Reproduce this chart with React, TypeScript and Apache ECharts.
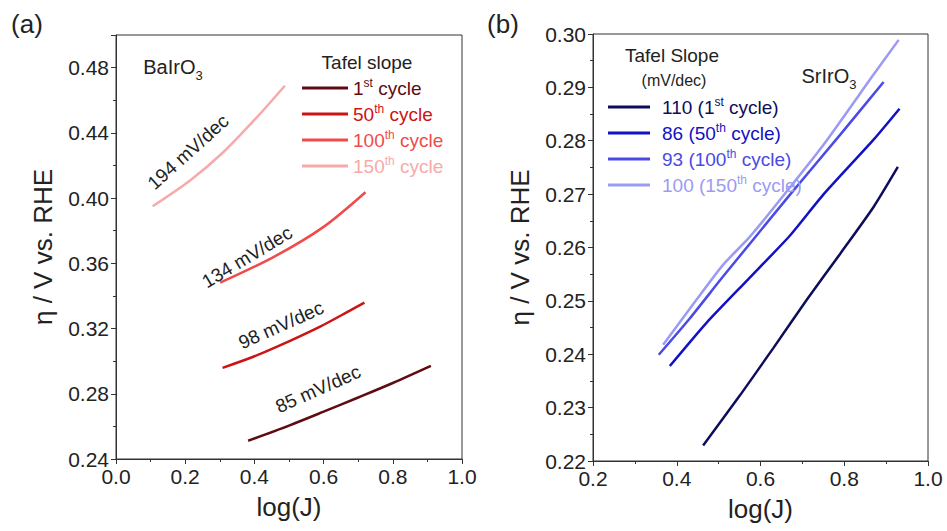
import React, { useEffect, useRef } from "react";
import * as echarts from "echarts";

const FONT = '"Liberation Sans", Arial, Helvetica, sans-serif';

// Panel (a) BaIrO3
const aNames = ["1st cycle", "50th cycle", "100th cycle", "150th cycle"];
const aColors = ["#5e0b12", "#cc1414", "#ef4b4b", "#f6aaaa"];
const a1X = [0.382, 0.5, 0.6, 0.7, 0.8, 0.91];
const a1Y = [0.2512, 0.2605, 0.269, 0.2777, 0.2866, 0.2971];
const a50X = [0.308, 0.397, 0.464, 0.59, 0.676, 0.718];
const a50Y = [0.2959, 0.3027, 0.3087, 0.3212, 0.331, 0.3359];
const a100X = [0.301, 0.455, 0.599, 0.721];
const a100Y = [0.3481, 0.3638, 0.3822, 0.4036];
const a150X = [0.106, 0.214, 0.31, 0.407, 0.488];
const a150Y = [0.395, 0.4108, 0.4281, 0.4495, 0.4689];
const aSlopes = ["85 mV/dec", "98 mV/dec", "134 mV/dec", "194 mV/dec"];

// Panel (b) SrIrO3
const bNames = ["110 (1st cycle)", "86 (50th cycle)", "93 (100th cycle)", "100 (150th cycle)"];
const bColors = ["#0d0d5c", "#1212c4", "#4a4ae6", "#9b9bf3"];
const b1X = [0.463, 0.551, 0.631, 0.7105, 0.79, 0.87, 0.928];
const b1Y = [0.2229, 0.2323, 0.2412, 0.2502, 0.2588, 0.2676, 0.2751];
const b50X = [0.3835, 0.47, 0.57, 0.67, 0.75, 0.87, 0.932];
const b50Y = [0.2378, 0.2458, 0.254, 0.2622, 0.2699, 0.2802, 0.286];
const b100X = [0.357, 0.431, 0.511, 0.6705, 0.79, 0.894];
const b100Y = [0.2399, 0.2467, 0.2546, 0.2699, 0.2811, 0.291];
const b150X = [0.3675, 0.447, 0.511, 0.571, 0.631, 0.75, 0.87, 0.93];
const b150Y = [0.2418, 0.2502, 0.2568, 0.2617, 0.2674, 0.2792, 0.2924, 0.2989];

const zip = (xs: number[], ys: number[]) => xs.map((x, i) => [x, ys[i]]);

const supFmt = (name: string) => name.replace(/(\d+)(st|th)/, "$1{sup|$2}");

export default function App() {
  const ref = useRef<HTMLDivElement>(null);
  useEffect(() => {
    if (!ref.current) return;
    const chart = echarts.init(ref.current, undefined, { renderer: "svg" });
    const axisColor = "#333";
    const labelColor = "#222";
    const mkX = (grid: number, min: number) => ({
      type: "value",
      gridIndex: grid,
      min,
      max: 1,
      interval: 0.2,
      name: "log(J)",
      nameLocation: "middle",
      nameGap: 35,
      nameTextStyle: { fontSize: 26, fontFamily: FONT, color: labelColor },
      axisLine: { show: true, lineStyle: { color: axisColor, width: 1 } },
      axisTick: { show: true, inside: false, length: 5, lineStyle: { color: axisColor } },
      minorTick: { show: true, splitNumber: 2, length: 3, lineStyle: { color: axisColor } },
      splitLine: { show: false },
      axisLabel: {
        fontSize: 21,
        fontFamily: FONT,
        color: labelColor,
        margin: 7,
        formatter: (v: number) => v.toFixed(1),
      },
    });
    const mkY = (grid: number, min: number, max: number, interval: number, gap: number) => ({
      type: "value",
      gridIndex: grid,
      min,
      max,
      interval,
      name: "η / V vs. RHE",
      nameLocation: "middle",
      nameGap: gap,
      nameTextStyle: { fontSize: 26, fontFamily: FONT, color: labelColor },
      axisLine: { show: true, lineStyle: { color: axisColor, width: 1 } },
      axisTick: { show: true, inside: false, length: 5, lineStyle: { color: axisColor } },
      minorTick: { show: true, splitNumber: 2, length: 3, lineStyle: { color: axisColor } },
      splitLine: { show: false },
      axisLabel: {
        fontSize: 21,
        fontFamily: FONT,
        color: labelColor,
        margin: 7,
        showMaxLabel: max === 0.3,
        formatter: (v: number) => v.toFixed(2),
      },
    });
    const legendText = {
      fontSize: 19,
      lineHeight: 22,
      fontFamily: FONT,
      rich: {
        sup: { fontSize: 12, lineHeight: 12, verticalAlign: "top", fontFamily: FONT },
      },
    };
    const aData = [zip(a1X, a1Y), zip(a50X, a50Y), zip(a100X, a100Y), zip(a150X, a150Y)];
    const bData = [zip(b1X, b1Y), zip(b50X, b50Y), zip(b100X, b100Y), zip(b150X, b150Y)];
    const series: any[] = [];
    aNames.forEach((n, i) =>
      series.push({
        type: "line",
        name: n,
        xAxisIndex: 0,
        yAxisIndex: 0,
        data: aData[i],
        symbol: "none",
        showSymbol: false,
        smooth: 0.3,
        lineStyle: { color: aColors[i], width: 2.5 },
        itemStyle: { color: aColors[i] },
      })
    );
    bNames.forEach((n, i) =>
      series.push({
        type: "line",
        name: n,
        xAxisIndex: 1,
        yAxisIndex: 1,
        data: bData[i],
        symbol: "none",
        showSymbol: false,
        smooth: 0.2,
        lineStyle: { color: bColors[i], width: 2.5 },
        itemStyle: { color: bColors[i] },
      })
    );
    const txt = (text: string, x: number, y: number, size: number, rot = 0, color = "#222", rich?: any) => ({
      type: "text",
      x,
      y,
      rotation: (rot * Math.PI) / 180,
      style: {
        text,
        fontSize: size,
        fontFamily: FONT,
        fill: color,
        align: "center",
        verticalAlign: "middle",
        ...(rich ? { rich, lineHeight: 30 } : {}),
      },
    });
    const subRich = {
      sub: { fontSize: 13, lineHeight: 13, verticalAlign: "bottom", fontFamily: FONT },
    };
    chart.setOption({
      animation: false,
      backgroundColor: "#ffffff",
      grid: [
        { left: 116, top: 35, width: 346, height: 424, show: true, borderColor: axisColor, borderWidth: 1, backgroundColor: "transparent" },
        { left: 593, top: 34, width: 335, height: 427, show: true, borderColor: axisColor, borderWidth: 1, backgroundColor: "transparent" },
      ],
      xAxis: [mkX(0, 0), mkX(1, 0.2)],
      yAxis: [mkY(0, 0.24, 0.5, 0.04, 60), mkY(1, 0.22, 0.3, 0.01, 60)],
      legend: [
        {
          orient: "vertical",
          left: 297,
          top: 72,
          icon: "rect",
          itemWidth: 46,
          itemHeight: 3,
          itemGap: 4,
          selectedMode: false,
          formatter: supFmt,
          textStyle: legendText,
          data: aNames.map((n, i) => ({ name: n, textStyle: { color: aColors[i] } })),
        },
        {
          orient: "vertical",
          left: 603,
          top: 91,
          icon: "rect",
          itemWidth: 42,
          itemHeight: 3,
          itemGap: 4,
          selectedMode: false,
          formatter: supFmt,
          textStyle: { ...legendText, padding: [0, 0, 0, 7] },
          data: bNames.map((n, i) => ({ name: n, textStyle: { color: bColors[i] } })),
        },
      ],
      graphic: [
        txt("(a)", 27, 24, 26),
        txt("(b)", 503, 24, 26),
        txt("BaIrO{sub|3}", 173, 67, 20, 0, "#222", subRich),
        txt("Tafel slope", 367, 62, 19),
        txt(aSlopes[3], 188, 152, 19, 42),
        txt(aSlopes[2], 247, 257, 19, 31),
        txt(aSlopes[1], 281, 325, 19, 24),
        txt(aSlopes[0], 318, 389, 19, 24),
        txt("SrIrO{sub|3}", 829, 76, 20, 0, "#222", subRich),
        txt("Tafel Slope", 672, 55, 19),
        txt("(mV/dec)", 674, 80, 16),
      ],
      series,
    });
    return () => chart.dispose();
  }, []);
  return (
    <div
      ref={ref}
      style={{ position: "fixed", left: 0, top: 0, width: 947, height: 531, background: "#fff" }}
    />
  );
}
